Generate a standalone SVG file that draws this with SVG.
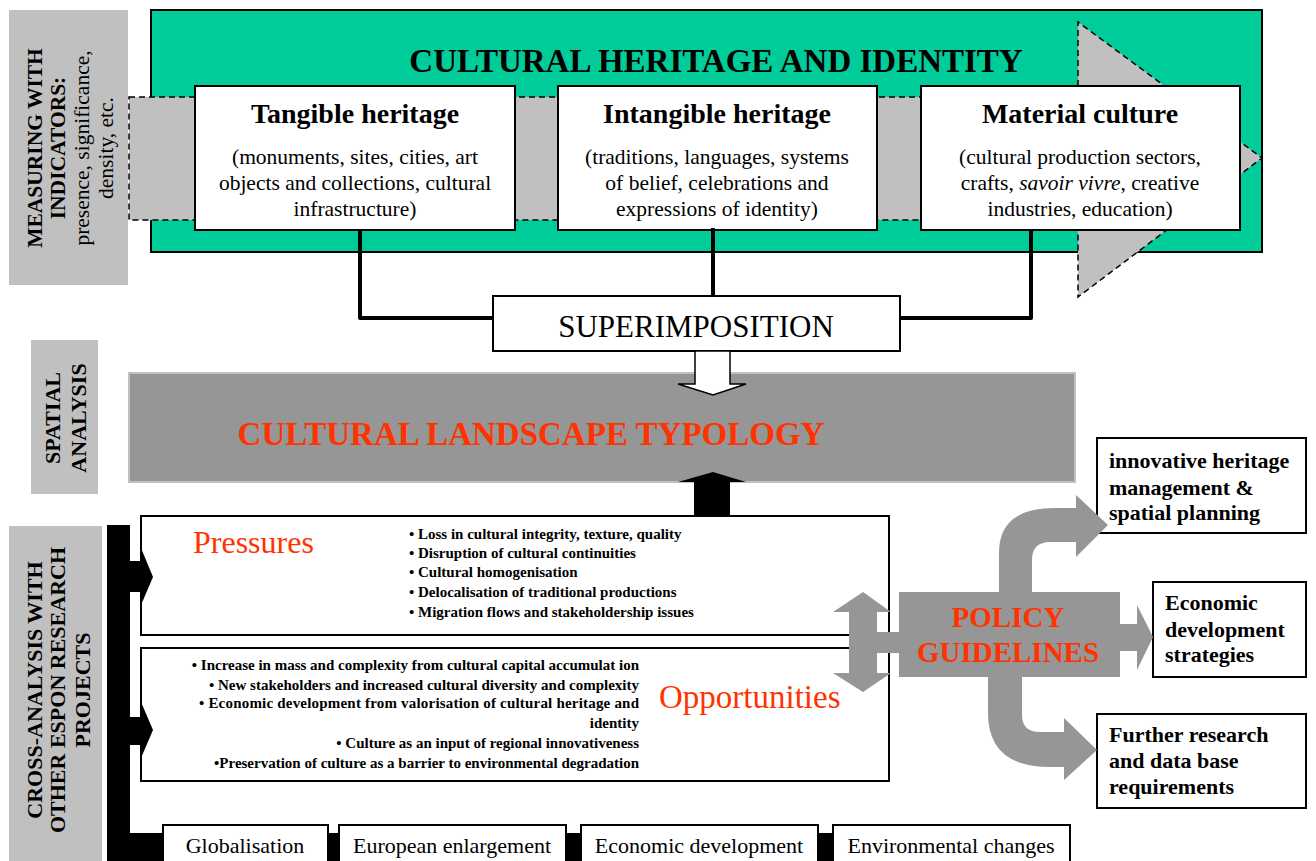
<svg xmlns="http://www.w3.org/2000/svg" width="1316" height="861" viewBox="0 0 1316 861">
  <style>
    text { font-family: "Liberation Serif", "Times New Roman", serif; fill: #000; }
    .lab { fill: #C0C0C0; }
    .lab text, .labt { font-size: 22px; font-weight: bold; text-anchor: middle; }
    .box { fill: #fff; stroke: #000; stroke-width: 2; }
    .htitle { font-size: 28px; font-weight: bold; text-anchor: middle; }
    .hsub { font-size: 21.5px; text-anchor: middle; }
    .red { fill: #FF3300; }
    .bul { font-size: 15px; font-weight: bold; }
    .bot { font-size: 22px; text-anchor: middle; }
    .rt { font-size: 22px; font-weight: bold; }
    .gray { fill: #969696; }
    .blk { fill: #000; }
    .wire { fill: none; stroke: #000; stroke-width: 4; stroke-linejoin: round; }
  </style>

  <!-- side labels -->
  <g id="label-measuring">
    <rect class="lab" x="9" y="10" width="119" height="275"/>
    <g transform="translate(0,148) rotate(-90)" text-anchor="middle">
      <text x="0" y="42" style="font-size:21.5px;font-weight:bold">MEASURING WITH</text>
      <text x="0" y="65" style="font-size:21.5px;font-weight:bold">INDICATORS:</text>
      <text x="0" y="89" style="font-size:21.5px">presence, significance,</text>
      <text x="0" y="113" style="font-size:21.5px">density, etc.</text>
    </g>
  </g>
  <g id="label-spatial">
    <rect class="lab" x="31" y="340" width="67" height="154"/>
    <g transform="translate(0,418) rotate(-90)">
      <text class="labt" x="0" y="60">SPATIAL</text>
      <text class="labt" x="0" y="86">ANALYSIS</text>
    </g>
  </g>
  <g id="label-cross">
    <rect class="lab" x="9" y="526" width="93" height="335"/>
    <g transform="translate(0,690) rotate(-90)">
      <text class="labt" x="0" y="42">CROSS-ANALYSIS WITH</text>
      <text class="labt" x="0" y="65">OTHER ESPON RESEARCH</text>
      <text class="labt" x="0" y="90">PROJECTS</text>
    </g>
  </g>

  <!-- cultural heritage panel -->
  <g id="heritage">
    <rect x="151" y="10" width="1111" height="242" fill="#00CC99" stroke="#000" stroke-width="2"/>
    <polygon points="129,97 1078,97 1078,22 1262,158 1078,297 1078,220 129,220" fill="#C0C0C0" stroke="#000" stroke-width="1.5" stroke-dasharray="6,4"/>
    <text x="716" y="72" style="font-size:33px;font-weight:bold;text-anchor:middle">CULTURAL HERITAGE AND IDENTITY</text>
  </g>

  <g id="tangible">
    <rect class="box" x="195" y="86" width="320" height="144"/>
    <text class="htitle" x="355" y="123">Tangible heritage</text>
    <text class="hsub" x="355" y="164">(monuments, sites, cities, art</text>
    <text class="hsub" x="355" y="190">objects and collections, cultural</text>
    <text class="hsub" x="355" y="216">infrastructure)</text>
  </g>
  <g id="intangible">
    <rect class="box" x="558" y="86" width="319" height="144"/>
    <text class="htitle" x="717" y="123">Intangible heritage</text>
    <text class="hsub" x="717" y="164">(traditions, languages, systems</text>
    <text class="hsub" x="717" y="190">of belief, celebrations and</text>
    <text class="hsub" x="717" y="216">expressions of identity)</text>
  </g>
  <g id="material">
    <rect class="box" x="921" y="86" width="319" height="144"/>
    <text class="htitle" x="1080" y="123">Material culture</text>
    <text class="hsub" x="1080" y="164">(cultural production sectors,</text>
    <text class="hsub" x="1080" y="190">crafts, <tspan font-style="italic">savoir vivre</tspan>, creative</text>
    <text class="hsub" x="1080" y="216">industries, education)</text>
  </g>

  <g id="superimposition">
    <rect class="box" x="493" y="296" width="407" height="55"/>
    <text x="696" y="337" style="font-size:31px;text-anchor:middle">SUPERIMPOSITION</text>
  </g>

  <g id="typology">
    <rect x="129" y="373" width="946" height="109" fill="#969696" stroke="#C0C0C0" stroke-width="2"/>
    <text class="red" x="531" y="445" style="font-size:33px;font-weight:bold;text-anchor:middle">CULTURAL LANDSCAPE TYPOLOGY</text>
  </g>

  <g id="pressures">
    <rect class="box" x="141" y="516" width="748" height="119" stroke-width="2.5"/>
    <text class="red" x="193" y="553" style="font-size:32px">Pressures</text>
    <text class="bul" x="409" y="539">• Loss in cultural integrity, texture, quality</text>
    <text class="bul" x="409" y="558">• Disruption of cultural continuities</text>
    <text class="bul" x="409" y="577">• Cultural homogenisation</text>
    <text class="bul" x="409" y="597">• Delocalisation of traditional productions</text>
    <text class="bul" x="409" y="617">• Migration flows and stakeholdership issues</text>
  </g>

  <g id="opportunities">
    <rect class="box" x="141" y="648" width="748" height="133" stroke-width="2.5"/>
    <g text-anchor="end">
      <text class="bul" x="639" y="670">• Increase in mass and complexity from cultural capital accumulat ion</text>
      <text class="bul" x="639" y="690">• New stakeholders and increased cultural diversity and complexity</text>
      <text class="bul" x="639" y="708" textLength="440" lengthAdjust="spacing">• Economic development from valorisation of cultural heritage and</text>
      <text class="bul" x="639" y="728">identity</text>
      <text class="bul" x="639" y="748">• Culture as an input of regional innovativeness</text>
      <text class="bul" x="639" y="768">•Preservation of culture as a barrier to environmental degradation</text>
    </g>
    <text class="red" x="659" y="708" style="font-size:33px">Opportunities</text>
  </g>

  <g id="policy">
    <rect class="gray" x="899" y="592" width="221" height="85"/>
    <text class="red" x="1008" y="627" style="font-size:29px;font-weight:bold;text-anchor:middle">POLICY</text>
    <text class="red" x="1008" y="662" style="font-size:29px;font-weight:bold;text-anchor:middle">GUIDELINES</text>
  </g>

  <g id="out-heritage">
    <rect class="box" x="1097" y="438" width="209" height="95"/>
    <text class="rt" x="1109" y="468">innovative heritage</text>
    <text class="rt" x="1109" y="495">management &amp;</text>
    <text class="rt" x="1109" y="520">spatial planning</text>
  </g>
  <g id="out-economic">
    <rect class="box" x="1153" y="582" width="153" height="95"/>
    <text class="rt" x="1165" y="610">Economic</text>
    <text class="rt" x="1165" y="637">development</text>
    <text class="rt" x="1165" y="662">strategies</text>
  </g>
  <g id="out-research">
    <rect class="box" x="1097" y="714" width="209" height="94"/>
    <text class="rt" x="1109" y="742">Further research</text>
    <text class="rt" x="1109" y="768">and data base</text>
    <text class="rt" x="1109" y="794">requirements</text>
  </g>

  <!-- driver boxes along the bottom -->
  <g id="globalisation">
    <rect class="box" x="163" y="825" width="165" height="45"/>
    <text class="bot" x="245" y="853">Globalisation</text>
  </g>
  <g id="enlargement">
    <rect class="box" x="339" y="825" width="227" height="45"/>
    <text class="bot" x="452" y="853">European enlargement</text>
  </g>
  <g id="economic-dev">
    <rect class="box" x="581" y="825" width="237" height="45"/>
    <text class="bot" x="699" y="853">Economic development</text>
  </g>
  <g id="environment">
    <rect class="box" x="833" y="825" width="237" height="45"/>
    <text class="bot" x="951" y="853">Environmental changes</text>
  </g>

  <!-- connectors -->
  <g id="connectors">
    <polyline class="wire" points="360,230 360,318 493,318"/>
    <line class="wire" x1="713" y1="228" x2="713" y2="296"/>
    <polyline class="wire" points="1031,230 1031,318 900,318"/>
    <polygon points="695,351 730,351 730,384 746,384 713,395 678,384 695,384" fill="#fff" stroke="#000" stroke-width="1.5"/>
    <polygon class="blk" points="694,516 730,516 730,482 746,482 713,472 678,482 694,482"/>
    <!-- cross-analysis bus -->
    <rect class="blk" x="107" y="525" width="23" height="336"/>
    <polygon class="blk" points="129,561 141,561 141,548 153,577 141,605 141,592 129,592"/>
    <polygon class="blk" points="129,717 141,717 141,702 153,730 141,758 141,745 129,745"/>
    <rect class="blk" x="129" y="833" width="34" height="28"/>
    <rect class="blk" x="328" y="833" width="11" height="28"/>
    <rect class="blk" x="566" y="833" width="15" height="28"/>
    <rect class="blk" x="818" y="833" width="15" height="28"/>
    <!-- policy links -->
    <polygon class="gray" points="863,592 891,612 877,612 877,632 899,632 899,653 877,653 877,673 891,673 863,692 833,673 849,673 849,612 833,612"/>
    <polygon class="gray" points="1120,624 1137,624 1137,605 1153,637 1137,670 1137,651 1120,651"/>
    <path class="gray" d="M999,592 L999,553 Q999,508 1055,508 L1076,508 L1076,495 L1108,525 L1076,557 L1076,542 L1050,542 Q1032,542 1032,560 L1032,592 Z"/>
    <path class="gray" d="M988,677 L988,713 Q988,767 1050,767 L1064,767 L1064,780 L1097,750 L1064,718 L1064,732 L1040,732 Q1022,732 1022,715 L1022,677 Z"/>
  </g>
</svg>
